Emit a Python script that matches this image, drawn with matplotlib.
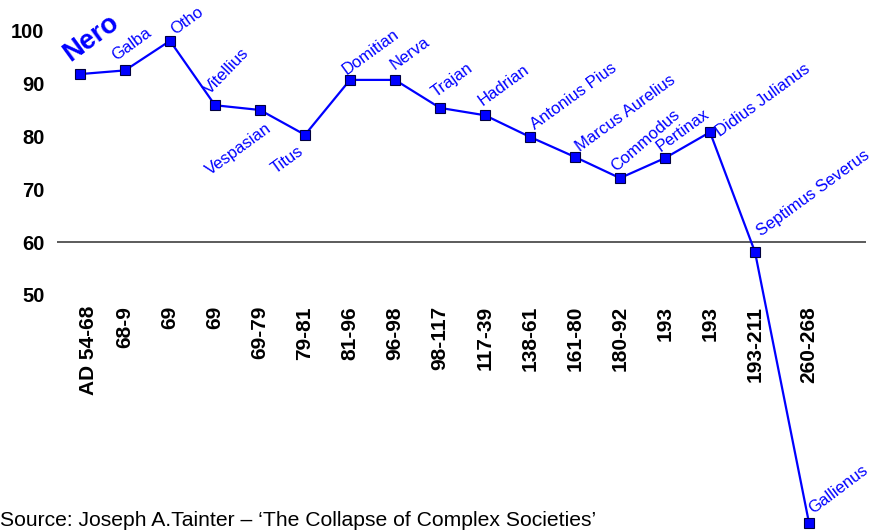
import numpy as np
import matplotlib
matplotlib.use("Agg")
import matplotlib.pyplot as plt
from matplotlib import transforms

plt.rcParams['font.family'] = ['Liberation Sans', 'DejaVu Sans']

# Silver content of the Roman denarius by emperor
emperors = ["Nero", "Galba", "Otho", "Vitellius", "Vespasian", "Titus",
            "Domitian", "Nerva", "Trajan", "Hadrian", "Antonius Pius",
            "Marcus Aurelius", "Commodus", "Pertinax", "Didius Julianus",
            "Septimus Severus", "Gallienus"]
reigns = ["AD 54-68", "68-9", "69", "69", "69-79", "79-81", "81-96", "96-98",
          "98-117", "117-39", "138-61", "161-80", "180-92", "193", "193",
          "193-211", "260-268"]
silver = [91.8, 92.5, 98.1, 85.9, 85.0, 80.3, 90.7, 90.7, 85.4, 84.0,
          79.9, 76.1, 72.1, 75.9, 80.8, 58.1, 6.8]
y_ticks = [50, 60, 70, 80, 90, 100]
source = "Source: Joseph A.Tainter \u2013 \u2018The Collapse of Complex Societies\u2019"

BLUE = "#0000FF"

fig = plt.figure(figsize=(8.85, 5.32), dpi=100)
W, H = 885, 532
ax = fig.add_axes([57 / W, 0, (866 - 57) / W, 1])

# category positions; a wider gap before the last reign (long time jump)
x = np.arange(len(silver), dtype=float)
x[-1] += 0.2

ax.set_xlim(-23 / 45, 786 / 45)
ax.set_ylim(60 - 290 / 5.28, 60 + 242 / 5.28)
for s in ax.spines.values():
    s.set_visible(False)
ax.set_xticks([])
ax.set_yticks(y_ticks)
ax.tick_params(axis='y', length=0, pad=9)
for lab in ax.get_yticklabels():
    lab.set_fontweight('bold')
    lab.set_fontsize(14.5)

# reference line at 60
ax.axhline(60, color="#404040", lw=1.2, zorder=1)

ax.plot(x, silver, color=BLUE, lw=1.6, marker='s', markersize=6.5,
        markerfacecolor=BLUE, markeredgecolor="#000040", markeredgewidth=0.8,
        clip_on=False, zorder=3)

# emperor name labels: offsets (px), rotation, alignment
offsets = [(-10, 12), (-9, 9), (5, 6), (-5, 10), (12, -20), (-1, -18),
           (-3, 5), (0, 10), (-4, 10), (-2, 9), (5, 7), (5, 5), (-4, 6),
           (-4, 6), (10, -5), (6, 15), (4, 9)]
rotations = [36, 36, 36, 46, 36, 36, 36, 36, 36, 36, 36, 36, 41, 36, 36, 36, 37]
aligns = ['left'] * len(emperors)
aligns[4] = 'right'
aligns[5] = 'right'

for i, name in enumerate(emperors):
    bold = (i == 0)
    ax.annotate(name, (x[i], silver[i]), xytext=offsets[i],
                textcoords='offset pixels', rotation=rotations[i],
                rotation_mode='anchor', ha=aligns[i], va='baseline',
                color=BLUE, fontsize=19.5 if bold else 12,
                fontweight='bold' if bold else 'normal',
                annotation_clip=False, zorder=4)

# reign labels, vertical, hanging below the chart body
trans = transforms.blended_transform_factory(ax.transData, fig.transFigure)
for i, r in enumerate(reigns):
    t = trans
    if i == 0:
        t = trans + transforms.ScaledTranslation(9 / 100, 0, fig.dpi_scale_trans)
    ax.text(x[i], 1 - 306 / H, r, transform=t, rotation=90, ha='center',
            va='top', fontsize=15, fontweight='bold', color='black')

fig.text(0 / W, 1 - 526 / H, source, ha='left', va='baseline', fontsize=15.2,
         color='black')

fig.savefig("out.png", dpi=100)
